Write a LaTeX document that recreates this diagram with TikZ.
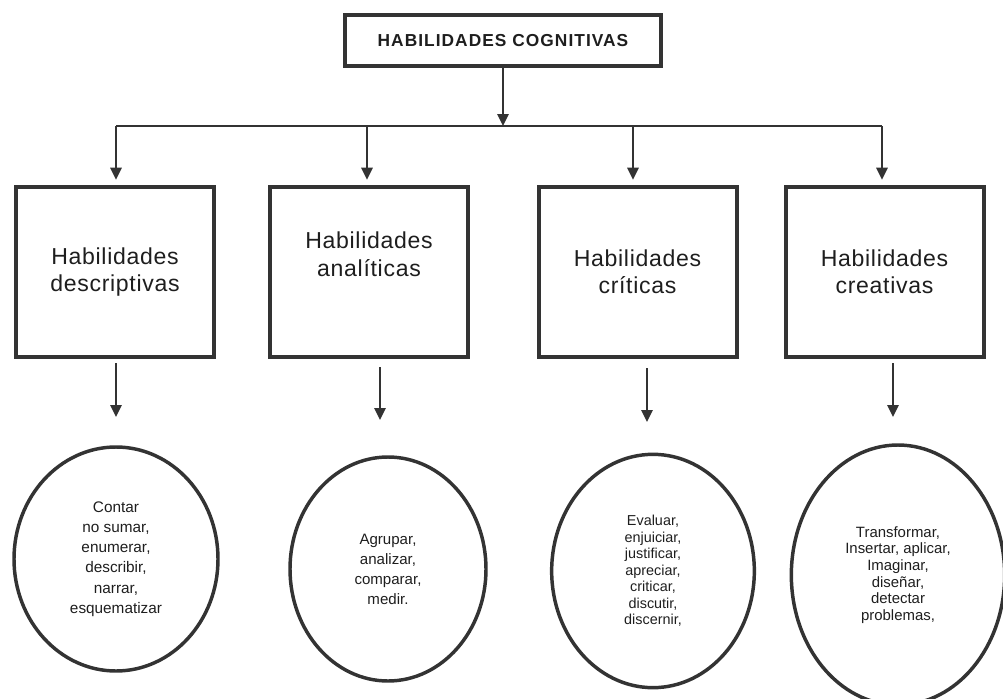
\documentclass[tikz,border=0pt]{standalone}
\usepackage{fontspec}
\setmainfont{Liberation Sans}
\newfontfamily\habfont[LetterSpace=3]{Liberation Sans}
\newfontfamily\headfont[LetterSpace=6]{Liberation Sans}
\usepackage{xcolor}
\usepackage{tikz}
\usetikzlibrary{arrows.meta,shapes.geometric}

\definecolor{ink}{HTML}{333333}
\definecolor{txt}{HTML}{1E1E1E}

\begin{document}
\begin{tikzpicture}[x=0.75pt, y=-0.75pt, >={Triangle[length=9pt,width=8.5pt]},
  head/.style={draw=ink, line width=3pt, minimum width=237pt, minimum height=38pt, text=txt,
    font=\headfont\bfseries\fontsize{13}{15}\selectfont},
  hab/.style={draw=ink, line width=3pt, minimum width=148.5pt, minimum height=127.5pt, align=center, text=txt,
    font=\habfont\fontsize{17.3}{20.5}\selectfont},
  ovl/.style={ellipse, draw=ink, line width=2.6pt, inner sep=0pt, align=center, text=txt},
  con/.style={draw=ink, line width=1.4pt}]
\useasboundingbox (0,0) rectangle (1003,699);

\node[head] (title) at (503,40.5) {HABILIDADES COGNITIVAS};

\node[hab] (b1) at (115,272) {Habilidades\\descriptivas};
\node[hab] (b2) at (369,272) {Habilidades\\analíticas\\\strut};
\node[hab] (b3) at (637.5,272) {Habilidades\\críticas};
\node[hab] (b4) at (884.5,272) {Habilidades\\creativas};

\node[ovl, minimum width=153pt, minimum height=168pt, font=\fontsize{11.5}{15.2}\selectfont] (e1) at (116,559)
  {Contar\\no sumar,\\enumerar,\\describir,\\narrar,\\esquematizar};
\node[ovl, minimum width=147pt, minimum height=168pt, font=\fontsize{11.3}{15}\selectfont] (e2) at (388,569)
  {Agrupar,\\analizar,\\comparar,\\medir.};
\node[ovl, minimum width=152pt, minimum height=175pt, font=\fontsize{10.8}{12.4}\selectfont] (e3) at (653,571)
  {Evaluar,\\enjuiciar,\\justificar,\\apreciar,\\criticar,\\discutir,\\discernir,};
\node[ovl, minimum width=160pt, minimum height=195pt, font=\fontsize{11.2}{12.5}\selectfont] (e4) at (898,575)
  {Transformar,\\Insertar, aplicar,\\Imaginar,\\diseñar,\\detectar\\problemas,};

% branching from the title
\coordinate (bus) at (503,126);
\coordinate (k1) at (116,126);
\coordinate (k2) at (367,126);
\coordinate (k3) at (633,126);
\coordinate (k4) at (882,126);
\draw[con, ->] (title) -- (bus);
\draw[con] (k1) -- (k4);
\draw[con, ->, shorten >=4pt] (k1) -- (k1 |- b1.north);
\draw[con, ->, shorten >=4pt] (k2) -- (k2 |- b2.north);
\draw[con, ->, shorten >=4pt] (k3) -- (k3 |- b3.north);
\draw[con, ->, shorten >=4pt] (k4) -- (k4 |- b4.north);

% arrows towards the ellipses
\coordinate (s1) at (116,363);  \coordinate (t1) at (116,417);
\coordinate (s2) at (380,367);  \coordinate (t2) at (380,420);
\coordinate (s3) at (647,368);  \coordinate (t3) at (647,422);
\coordinate (s4) at (893,363);  \coordinate (t4) at (893,417);
\draw[con, ->] (s1) -- (t1);
\draw[con, ->] (s2) -- (t2);
\draw[con, ->] (s3) -- (t3);
\draw[con, ->] (s4) -- (t4);
\end{tikzpicture}
\end{document}
